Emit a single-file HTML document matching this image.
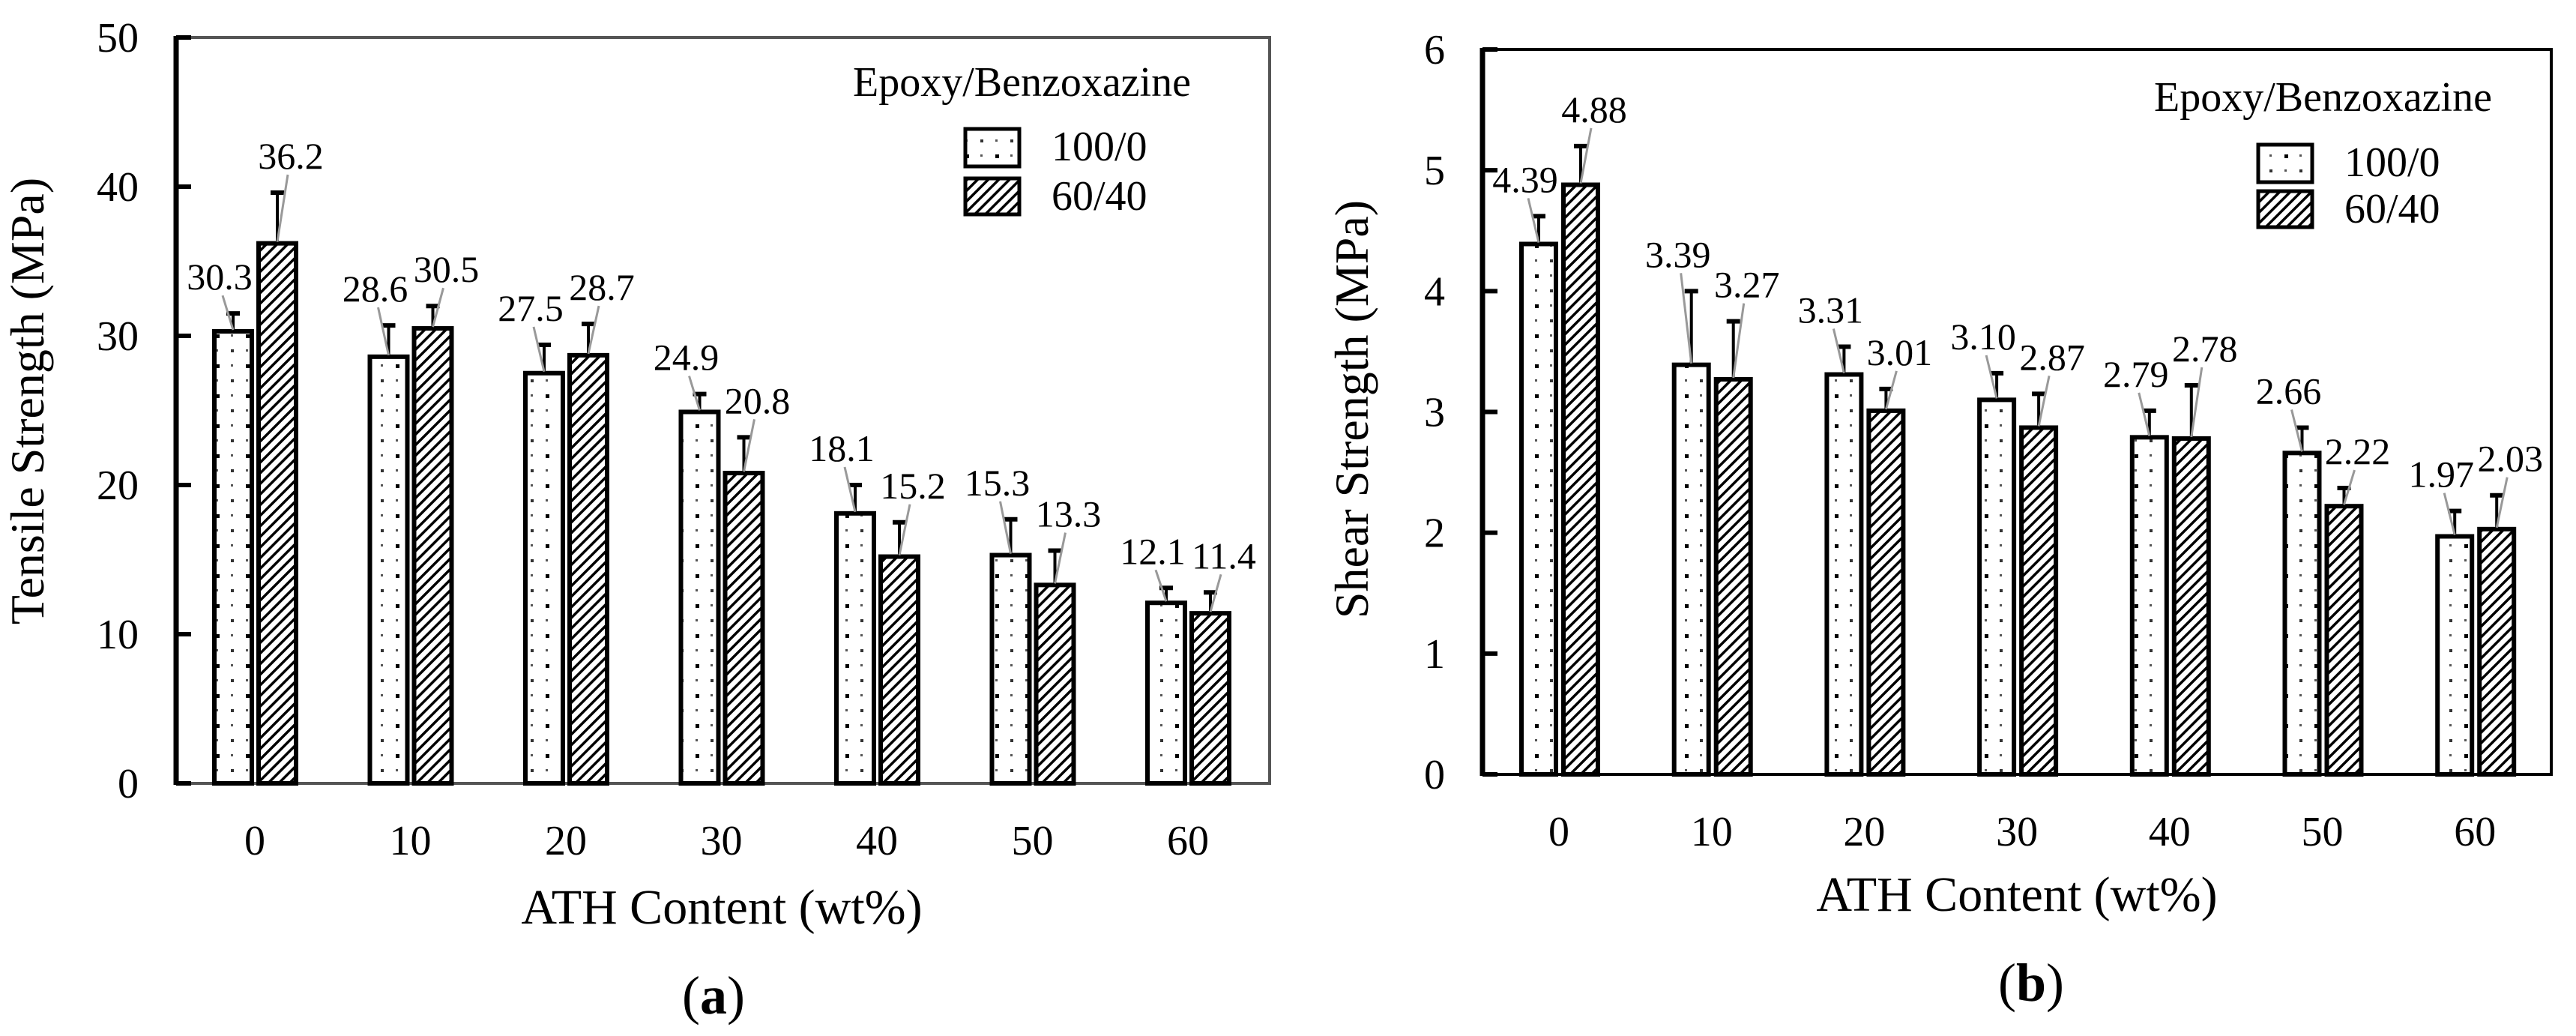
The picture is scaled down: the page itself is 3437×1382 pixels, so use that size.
<!DOCTYPE html>
<html><head><meta charset="utf-8"><style>
html,body{margin:0;padding:0;background:#fff;}
svg{display:block;}
svg text{font-family:"Liberation Serif","Times New Roman",serif;}
</style></head><body>
<svg id="fig" width="3437" height="1382" viewBox="0 0 3437 1382" xmlns="http://www.w3.org/2000/svg" font-family="'Liberation Serif', 'Times New Roman', serif" style="font-family:'Liberation Serif','Times New Roman',serif">
<defs>
<pattern id="dots" patternUnits="userSpaceOnUse" width="40" height="40">
<rect width="40" height="40" fill="#fff"/>
<rect x="8" y="6" width="5" height="5" fill="#000"/><rect x="28" y="26" width="4" height="4" fill="#333"/>
<rect x="28" y="6" width="3" height="3" fill="#555"/><rect x="8" y="26" width="3" height="3" fill="#555"/>
</pattern>
<pattern id="hatch" patternUnits="userSpaceOnUse" width="10" height="10" patternTransform="rotate(45)">
<rect width="10" height="10" fill="#fff"/><rect x="0" y="0" width="3.5" height="10" fill="#000"/>
</pattern>
</defs>
</svg>
<script>
const categories = ["0","10","20","30","40","50","60"];
const tensile100 = [30.3,28.6,27.5,24.9,18.1,15.3,12.1];
const tensile6040 = [36.2,30.5,28.7,20.8,15.2,13.3,11.4];
const tensileErr100 = [31.5,30.7,29.4,26.1,20.0,17.7,13.1];
const tensileErr6040 = [39.6,32.0,30.8,23.2,17.5,15.6,12.8];
const tensileLabels100 = ["30.3","28.6","27.5","24.9","18.1","15.3","12.1"];
const tensileLabels6040 = ["36.2","30.5","28.7","20.8","15.2","13.3","11.4"];
const tensileTicks = [0,10,20,30,40,50];
const shear100 = [4.39,3.39,3.31,3.10,2.79,2.66,1.97];
const shear6040 = [4.88,3.27,3.01,2.87,2.78,2.22,2.03];
const shearErr100 = [4.62,4.00,3.54,3.32,3.01,2.87,2.18];
const shearErr6040 = [5.20,3.75,3.19,3.15,3.22,2.37,2.31];
const shearLabels100 = ["4.39","3.39","3.31","3.10","2.79","2.66","1.97"];
const shearLabels6040 = ["4.88","3.27","3.01","2.87","2.78","2.22","2.03"];
const shearTicks = [0,1,2,3,4,5,6];

const NS="http://www.w3.org/2000/svg";
const svg=document.getElementById('fig');
const FF="'Liberation Serif', 'Times New Roman', serif";
function mk(tag,attrs,parent,text){const e=document.createElementNS(NS,tag);for(const k in attrs)e.setAttribute(k,attrs[k]);if(tag==='text')e.setAttribute('font-family',FF);if(text!==undefined)e.textContent=text;(parent||svg).appendChild(e);return e;}

function chart(o){
  const g=mk('g',{});
  
  
  const y=v=>o.bottom-(v-o.ymin)/(o.ymax-o.ymin)*(o.bottom-o.top);
  const x=i=>o.c0+i*o.step;
  const fr=mk('rect',{x:o.left,y:o.top,width:o.right-o.left,height:o.bottom-o.top,fill:'none',stroke:o.frameColor,'stroke-width':4},g);
  
  
  const ya=mk('line',{x1:o.left,y1:o.top-2,x2:o.left,y2:o.bottom+2,stroke:'#000','stroke-width':7},g);
  
  
  o.ticks.forEach(t=>{
    mk('line',{x1:o.left,y1:y(t),x2:o.left+20,y2:y(t),stroke:'#000','stroke-width':6},g);
    const tl=mk('text',{x:o.left-50,y:y(t)+19,'text-anchor':'end','font-size':56},g,String(t));
    
    
  });
  categories.forEach((c,i)=>{
    const cl=mk('text',{x:x(i),y:o.bottom+95,'text-anchor':'middle','font-size':56},g,c);
    
    
    const series=[[o.s1[i],o.e1[i],o.l1[i],'url(#dots)',o.b1,-1],[o.s2[i],o.e2[i],o.l2[i],'url(#hatch)',o.b2,1]];
    series.forEach(([v,e,lab,fill,off,side],k)=>{
      const bx=x(i)+off, bw=o.bw, cx=bx+bw/2;
      mk('line',{x1:cx,y1:y(v),x2:cx,y2:y(e),stroke:'#000','stroke-width':4},g);
      mk('line',{x1:cx-9,y1:y(e),x2:cx+9,y2:y(e),stroke:'#000','stroke-width':6},g);
      const r=mk('rect',{x:bx,y:y(v),width:bw,height:o.bottom-y(v),fill:fill,stroke:'#000','stroke-width':6},g);
      
      
      const lx=cx+side*18, ly=y(e)-32;
      mk('line',{x1:lx-side*4,y1:ly+8,x2:cx,y2:y(v)-2,stroke:'#999','stroke-width':3},g);
      const t=mk('text',{x:lx,y:ly,'text-anchor':'middle','font-size':50},g,lab);
      
      
    });
  });
  const yt=mk('text',{x:o.ytx,y:o.yty,'text-anchor':'middle','font-size':64,transform:`rotate(-90 ${o.ytx} ${o.yty})`},g,o.ytitle);
  
  
  const xt=mk('text',{x:o.xtx,y:o.xty,'text-anchor':'middle','font-size':66},g,'ATH Content (wt%)');
  
  
  const pl=mk('text',{x:o.px,y:o.py,'text-anchor':'middle','font-size':72},g);
  
  
  mk('tspan',{},pl,'(');mk('tspan',{'font-weight':'bold'},pl,o.panel);mk('tspan',{},pl,')');
  const lg=mk('g',{},g);
  
  
  mk('text',{x:o.lgx,y:o.lgy,'font-size':56},lg,'Epoxy/Benzoxazine');
  const e1=mk('rect',{x:o.lbx,y:o.lby1,width:72,height:50,fill:'url(#dots)',stroke:'#000','stroke-width':5},lg);
  
  
  const e2=mk('rect',{x:o.lbx,y:o.lby2,width:72,height:48,fill:'url(#hatch)',stroke:'#000','stroke-width':5},lg);
  
  
  mk('text',{x:o.lbx+115,y:o.lby1+42,'font-size':56},lg,'100/0');
  mk('text',{x:o.lbx+115,y:o.lby2+42,'font-size':56},lg,'60/40');
}
chart({name:'tensile-chart',left:235,right:1694,top:50,bottom:1045,ymin:0,ymax:50,ticks:tensileTicks,
  c0:340,step:207.5,bw:50,b1:-54,b2:5,frameColor:'#555',
  s1:tensile100,s2:tensile6040,e1:tensileErr100,e2:tensileErr6040,l1:tensileLabels100,l2:tensileLabels6040,
  ytitle:'Tensile Strength (MPa)',ytx:58,yty:535,xtx:963,xty:1232,px:952,py:1352,panel:'a',
  lgx:1138,lgy:128,lbx:1288,lby1:172,lby2:238});
chart({name:'shear-chart',left:1978,right:3404,top:66,bottom:1033,ymin:0,ymax:6,ticks:shearTicks,
  c0:2080,step:203.7,bw:46,b1:-50,b2:6,frameColor:'#000',
  s1:shear100,s2:shear6040,e1:shearErr100,e2:shearErr6040,l1:shearLabels100,l2:shearLabels6040,
  ytitle:'Shear Strength (MPa)',ytx:1825,yty:546,xtx:2691,xty:1215,px:2710,py:1335,panel:'b',
  lgx:2874,lgy:148,lbx:3013,lby1:193,lby2:255});
</script>
</body></html>
